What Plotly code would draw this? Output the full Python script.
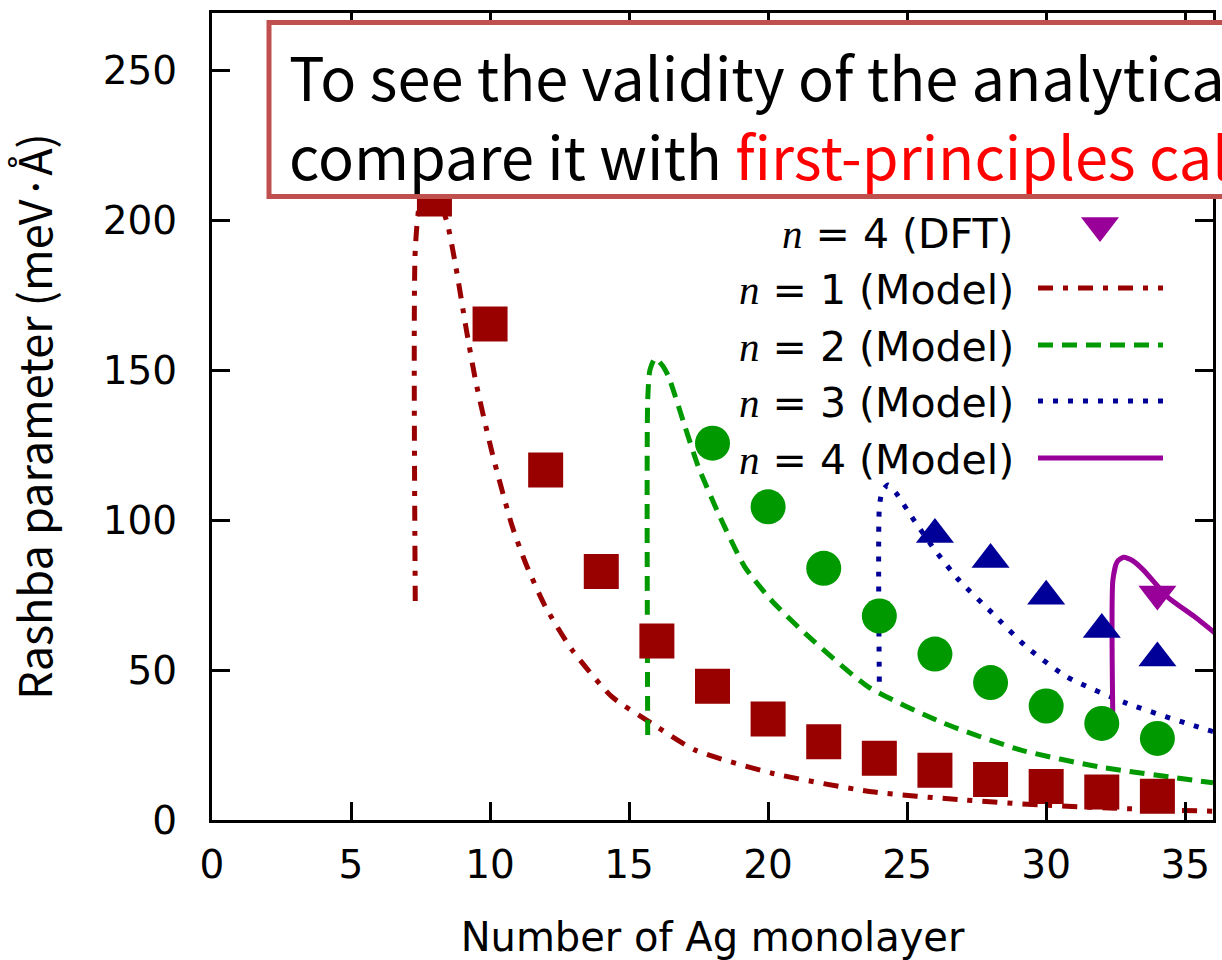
import plotly.graph_objects as go

# ---- DFT results ----
n1_dft_x = [8, 10, 12, 14, 16, 18, 20, 22, 24, 26, 28, 30, 32, 34]
n1_dft_y = [207, 165.3, 116.7, 82.8, 59.7, 44.6, 33.7, 26.1, 20.6, 16.6, 13.5, 11.2, 9.3, 7.9]

n2_dft_x = [18, 20, 22, 24, 26, 28, 30, 32, 34]
n2_dft_y = [125.6, 104.4, 83.9, 68.0, 55.3, 45.8, 38.0, 32.2, 27.2]

n3_dft_x = [26, 28, 30, 32, 34]
n3_dft_y = [95.2, 86.8, 74.6, 63.5, 54.0]

n4_dft_x = [34]
n4_dft_y = [75.3]

# ---- analytical model curves ----
n1_mod_x = [7.31, 7.31, 7.5, 7.8, 8.1, 8.46, 8.77, 9.13, 9.49, 10.08, 10.8, 11.28,
            11.99, 12.95, 14.38, 15.82, 17.38, 20.14, 23.72, 27.0, 29.8, 32.5, 36.0]
n1_mod_y = [73, 190, 207, 211, 208, 199, 184.4, 164.4, 146, 122.2, 97.8, 85.6,
            71.1, 56.7, 41.1, 32.2, 23.3, 15.6, 9.4, 6.7, 5.0, 3.9, 2.9]

n2_mod_x = [15.67, 15.67, 15.75, 15.94, 16.2, 16.42, 17.01, 17.49, 18.21, 19.16,
            20.14, 21.4, 23.6, 26.33, 29.1, 31.85, 36.0]
n2_mod_y = [28.3, 140, 150, 153.9, 151.5, 147.8, 131.1, 117.8, 102.2, 84.4,
            73.0, 61.6, 44.4, 32.2, 23.3, 17.8, 12.4]

n3_mod_x = [24.0, 24.0, 24.1, 24.31, 24.6, 25.16, 26.0, 26.86, 28.07, 29.28,
            30.73, 32.9, 35.8, 36.0]
n3_mod_y = [46.1, 104, 109.5, 111.7, 109, 101.1, 90, 80, 68.9, 57.8,
            47.8, 38.9, 30.0, 29.5]

n4_mod_x = [32.4, 32.4, 32.55, 32.78, 33.1, 33.5, 34.36, 35.33, 36.06]
n4_mod_y = [31.7, 80, 86, 87.6, 86.5, 83.3, 74.4, 67.8, 62.4]

x_ticks = [0, 5, 10, 15, 20, 25, 30, 35]
y_ticks = [0, 50, 100, 150, 200, 250]

RED = "#990000"
GREEN = "#009900"
BLUE = "#000099"
PURPLE = "#990099"

DASHDOT = "15px,10px,5px,10px"
DASH = "15px,9px"
DOT = "5px,10px"

fig = go.Figure()

# model curves
for xs, ys, col, dash in [
    (n1_mod_x, n1_mod_y, RED, DASHDOT),
    (n2_mod_x, n2_mod_y, GREEN, DASH),
    (n3_mod_x, n3_mod_y, BLUE, DOT),
    (n4_mod_x, n4_mod_y, PURPLE, "solid"),
]:
    fig.add_trace(go.Scatter(
        x=xs, y=ys, mode="lines",
        line=dict(color=col, width=5, dash=dash, shape="spline", smoothing=0.6),
        showlegend=False, hoverinfo="skip"))

# DFT points
for xs, ys, col, sym, size in [
    (n1_dft_x, n1_dft_y, RED, "square", 35),
    (n2_dft_x, n2_dft_y, GREEN, "circle", 35),
    (n3_dft_x, n3_dft_y, BLUE, "triangle-up", 33),
    (n4_dft_x, n4_dft_y, PURPLE, "triangle-down", 33),
]:
    fig.add_trace(go.Scatter(
        x=xs, y=ys, mode="markers",
        marker=dict(color=col, symbol=sym, size=size, line=dict(width=0)),
        showlegend=False, cliponaxis=False))

# key: marker sample for the n = 4 (DFT) entry on a unit overlay axis
fig.add_trace(go.Scatter(
    x=[0.8871], y=[0.7367], xaxis="x2", yaxis="y2", mode="markers",
    marker=dict(color=PURPLE, symbol="triangle-down", size=33),
    showlegend=False, cliponaxis=False, hoverinfo="skip"))

L, R, T, B = 212, 1213, 13, 820
W, H = 1222, 960


def px(xp):
    return (xp - L) / (R - L)


def py(yp):
    return (B - yp) / (B - T)


serif_n = "<i><span style=\"font-family:'Liberation Serif'\">n</span></i>"
key_rows = [
    (f"{serif_n} = 4 (DFT)", 234, None, None),
    (f"{serif_n} = 1 (Model)", 290, RED, DASHDOT),
    (f"{serif_n} = 2 (Model)", 347, GREEN, DASH),
    (f"{serif_n} = 3 (Model)", 403, BLUE, DOT),
    (f"{serif_n} = 4 (Model)", 460, PURPLE, "solid"),
]

annotations = []
shapes = []
for text, yc, col, dash in key_rows:
    annotations.append(dict(
        text=text, x=px(1016), y=py(yc), xref="paper", yref="paper",
        xanchor="right", yanchor="middle", showarrow=False,
        font=dict(family="DejaVu Sans", size=41, color="black")))
    if col is not None:
        shapes.append(dict(
            type="line", xref="paper", yref="paper",
            x0=px(1038), x1=px(1163), y0=py(yc - 2), y1=py(yc - 2),
            line=dict(color=col, width=5, dash=dash), layer="above"))

# callout box across the top
shapes.append(dict(
    type="rect", xref="paper", yref="paper",
    x0=px(269), x1=px(1300), y0=py(196.5), y1=py(22.5),
    line=dict(color="#C0504D", width=5), fillcolor="white", layer="above"))

box_font = dict(family="Noto Sans CJK JP", size=59.5, color="black")
annotations.append(dict(
    text="To see the validity of the analytical model, we",
    x=px(287), y=py(75), xref="paper", yref="paper",
    xanchor="left", yanchor="middle", showarrow=False, font=box_font))
annotations.append(dict(
    text="compare it with <span style=\"color:#FF0000\">first-principles calculations.</span>",
    x=px(287), y=py(154), xref="paper", yref="paper",
    xanchor="left", yanchor="middle", showarrow=False, font=box_font))

axis_common = dict(
    showline=True, linecolor="black", linewidth=3, mirror="ticks",
    ticks="inside", ticklen=18, tickwidth=3, tickcolor="black",
    showgrid=False, zeroline=False, automargin=False,
    tickfont=dict(family="DejaVu Sans", size=39, color="black"))

fig.update_layout(
    width=W, height=H,
    margin=dict(l=L, r=W - R, t=T, b=H - B),
    paper_bgcolor="white", plot_bgcolor="white",
    showlegend=False,
    xaxis=dict(range=[0, 36], tickvals=x_ticks, ticklabelstandoff=8,
               title=dict(text="Number of Ag monolayer", standoff=40,
                          font=dict(family="DejaVu Sans", size=40, color="black")),
               **axis_common),
    yaxis=dict(range=[0, 269], tickvals=y_ticks, ticklabelstandoff=24,
               title=dict(text="Rashba parameter (meV·Å)", standoff=46,
                          font=dict(family="Noto Sans CJK JP", size=45, color="black")),
               **axis_common),
    xaxis2=dict(range=[0, 1], overlaying="x", anchor="y2", visible=False),
    yaxis2=dict(range=[0, 1], overlaying="y", anchor="x2", visible=False),
    shapes=shapes,
    annotations=annotations,
)

fig.write_html("out.html")
